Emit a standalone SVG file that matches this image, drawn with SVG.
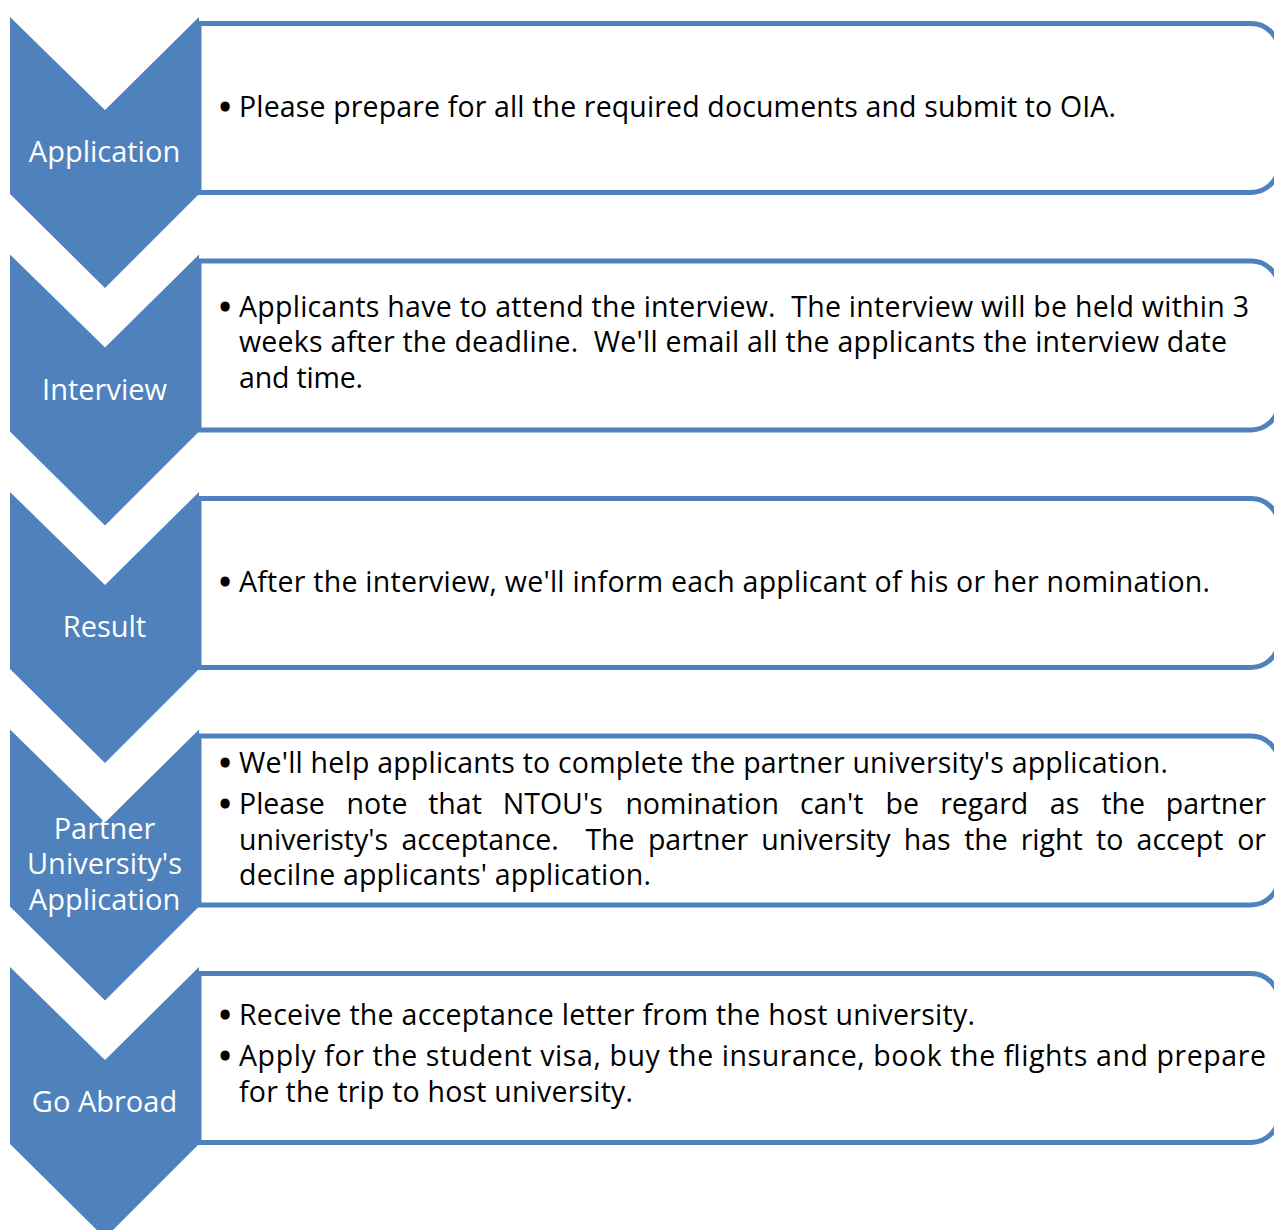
<svg xmlns="http://www.w3.org/2000/svg" width="1274" height="1230" viewBox="0 0 1274 1230">
<style>
.box{fill:#fff;stroke:#4F81BD;stroke-width:5}
.chev{fill:#4F81BD}
.lbl{font-family:"Open Sans","Noto Sans","Liberation Sans",sans-serif;font-size:29px;fill:#fff;text-anchor:middle}
.t{font-family:"Open Sans","Noto Sans","Liberation Sans",sans-serif;font-size:28.5px;fill:#000;white-space:pre}
.b{font-family:"Open Sans","Noto Sans","Liberation Sans",sans-serif;font-size:28.5px;fill:#000;stroke:#000;stroke-width:3.2;text-anchor:middle}
.e{text-anchor:end}
</style>
<defs>
<path id="boxp" d="M199,23.5 H1251 A28,28 0 0 1 1279,51.5 V164.5 A28,28 0 0 1 1251,192.5 H199 Z"/>
<path id="chevp" d="M10,17 L105,110 L199,17 V194 L105,288 L10,194 Z"/>
</defs>
<rect width="1274" height="1230" fill="#fff"/>
<g id="connectors"/>
<g id="step1">
<use href="#boxp" class="box"/>
<use href="#chevp" class="chev"/>
<text class="lbl" x="104.5" y="162">Application</text>
<text class="b" x="225" y="117">•</text>
<text class="t" x="239" y="117" textLength="877" lengthAdjust="spacing">Please prepare for all the required documents and submit to OIA.</text>
</g>
<g id="step2" transform="translate(0,237.5)">
<use href="#boxp" class="box"/>
<use href="#chevp" class="chev"/>
<text class="lbl" x="104.5" y="162">Interview</text>
<text class="b" x="225" y="79.5">•</text>
<text class="t" x="239" y="79.5" textLength="1010" lengthAdjust="spacing">Applicants have to attend the interview.  The interview will be held within 3</text>
<text class="t" x="239" y="114.5" textLength="988" lengthAdjust="spacing">weeks after the deadline.  We'll email all the applicants the interview date</text>
<text class="t" x="239" y="150.5" textLength="124" lengthAdjust="spacing">and time.</text>
</g>
<g id="step3" transform="translate(0,475)">
<use href="#boxp" class="box"/>
<use href="#chevp" class="chev"/>
<text class="lbl" x="104.5" y="162">Result</text>
<text class="b" x="225" y="117">•</text>
<text class="t" x="239" y="117" textLength="971" lengthAdjust="spacing">After the interview, we'll inform each applicant of his or her nomination.</text>
</g>
<g id="step4" transform="translate(0,712.5)">
<use href="#boxp" class="box"/>
<use href="#chevp" class="chev"/>
<text class="lbl" y="126.5"><tspan x="104.5">Partner</tspan><tspan x="104.5" dy="35">University's</tspan><tspan x="104.5" dy="36">Application</tspan></text>
<text class="b" x="225" y="60.5">•</text>
<text class="t" x="239" y="60.5" textLength="929" lengthAdjust="spacing">We'll help applicants to complete the partner university's application.</text>
<text class="b" x="225" y="101.5">•</text>
<text class="t" y="101.5"><tspan x="239">Please</tspan><tspan x="346.6">note</tspan><tspan x="428.2">that</tspan><tspan x="502.8">NTOU's</tspan><tspan x="625.4">nomination</tspan><tspan x="800">can't</tspan><tspan x="885.6">be</tspan><tspan x="940.2">regard</tspan><tspan x="1049.8">as</tspan><tspan x="1101.4">the</tspan><tspan x="1266" class="e">partner</tspan></text>
<text class="t" y="137.5"><tspan x="239">univeristy's</tspan><tspan x="401.5">acceptance.</tspan><tspan x="585.4">The</tspan><tspan x="647.9">partner</tspan><tspan x="761.3">university</tspan><tspan x="903.8">has</tspan><tspan x="964.2">the</tspan><tspan x="1020.7">right</tspan><tspan x="1096.1">to</tspan><tspan x="1136.6">accept</tspan><tspan x="1266" class="e">or</tspan></text>
<text class="t" x="239" y="172.5" textLength="412" lengthAdjust="spacing">decilne applicants' application.</text>
</g>
<g id="step5" transform="translate(0,950)">
<use href="#boxp" class="box"/>
<use href="#chevp" class="chev"/>
<text class="lbl" x="104.5" y="162">Go Abroad</text>
<text class="b" x="225" y="75">•</text>
<text class="t" x="239" y="75" textLength="736" lengthAdjust="spacing">Receive the acceptance letter from the host university.</text>
<text class="b" x="225" y="116">•</text>
<text class="t" x="239" y="116" textLength="1027" lengthAdjust="spacing">Apply for the student visa, buy the insurance, book the flights and prepare</text>
<text class="t" x="239" y="152" textLength="394" lengthAdjust="spacing">for the trip to host university.</text>
</g>
</svg>
